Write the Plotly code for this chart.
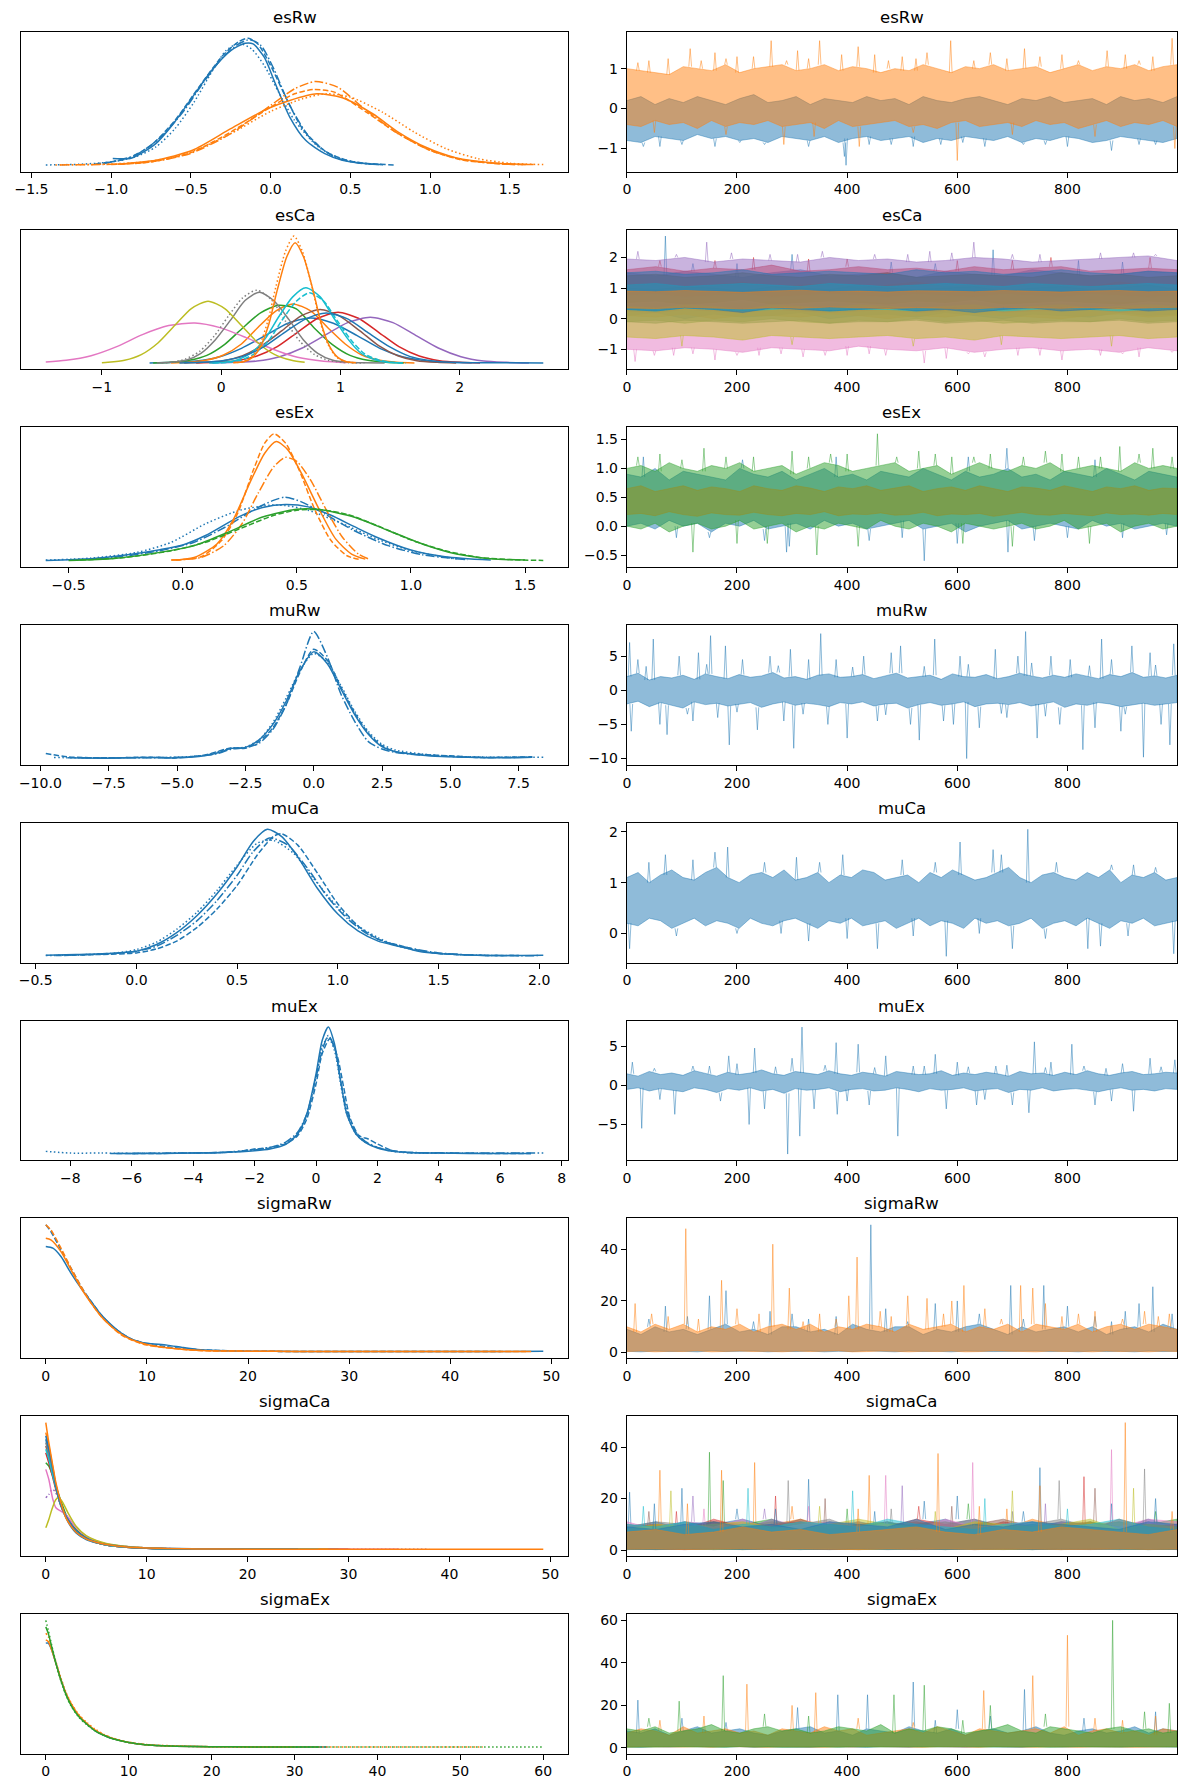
import plotly.graph_objects as go

# ---------------------------------------------------------------- data
VARS = ['esRw', 'esCa', 'esEx', 'muRw', 'muCa', 'muEx', 'sigmaRw', 'sigmaCa', 'sigmaEx']

# ---- esRw (2 dims) ----
esRw_kde_dim = [0, 0, 0, 0, 1, 1, 1, 1]
esRw_kde_chain = [0, 3, 1, 2, 0, 1, 2, 3]
esRw_kde_x = [
    [-0.99, -0.87, -0.72, -0.61, -0.49, -0.37, -0.25, -0.16, -0.11, -0.04, 0.03, 0.12, 0.22, 0.34, 0.45, 0.59, 0.69],
    [-1.41, -1.2, -1.0, -0.85, -0.72, -0.6, -0.48, -0.37, -0.28, -0.2, -0.12, -0.04, 0.05, 0.15, 0.3, 0.45, 0.6, 0.72],
    [-1.1, -0.9, -0.75, -0.6, -0.45, -0.3, -0.2, -0.14, -0.08, 0.0, 0.1, 0.2, 0.35, 0.5, 0.65, 0.78],
    [-1.05, -0.85, -0.7, -0.55, -0.42, -0.3, -0.2, -0.13, -0.06, 0.02, 0.12, 0.25, 0.4, 0.55, 0.7],
    [-0.96, -0.72, -0.49, -0.25, -0.02, 0.12, 0.29, 0.45, 0.64, 0.8, 0.97, 1.16, 1.4, 1.65],
    [-1.0, -0.75, -0.5, -0.25, 0.0, 0.15, 0.27, 0.4, 0.6, 0.8, 1.0, 1.2, 1.45, 1.6],
    [-1.32, -1.0, -0.75, -0.5, -0.25, 0.0, 0.15, 0.28, 0.42, 0.6, 0.8, 1.0, 1.2, 1.45, 1.6],
    [-1.35, -1.0, -0.75, -0.5, -0.25, 0.0, 0.2, 0.35, 0.5, 0.7, 0.9, 1.1, 1.3, 1.5, 1.71],
]
esRw_kde_y = [
    [0.2, 0.22, 0.65, 1.25, 2.05, 2.85, 3.45, 3.67, 3.65, 3.25, 2.45, 1.45, 0.75, 0.35, 0.15, 0.05, 0.02],
    [0.01, 0.03, 0.1, 0.25, 0.55, 1.1, 1.9, 2.8, 3.45, 3.67, 3.5, 3.0, 2.2, 1.35, 0.55, 0.18, 0.05, 0.01],
    [0.04, 0.2, 0.6, 1.35, 2.35, 3.3, 3.72, 3.82, 3.65, 3.0, 2.0, 1.1, 0.4, 0.12, 0.04, 0.01],
    [0.05, 0.3, 0.8, 1.6, 2.5, 3.25, 3.65, 3.78, 3.6, 2.9, 1.8, 0.8, 0.25, 0.07, 0.02],
    [0.03, 0.15, 0.45, 1.1, 1.7, 1.95, 2.15, 2.03, 1.55, 1.0, 0.55, 0.23, 0.07, 0.02],
    [0.02, 0.1, 0.38, 1.0, 1.75, 2.15, 2.28, 2.2, 1.6, 0.95, 0.45, 0.16, 0.04, 0.02],
    [0.01, 0.03, 0.1, 0.36, 0.95, 1.8, 2.3, 2.52, 2.35, 1.65, 0.95, 0.45, 0.17, 0.04, 0.02],
    [0.01, 0.04, 0.12, 0.4, 0.95, 1.62, 2.0, 2.15, 2.05, 1.6, 1.0, 0.5, 0.2, 0.06, 0.02],
]
esRw_hi = [
    [0.2, 0.3, 0.1, 0.25, 0.15, 0.3, 0.2, 0.1, 0.25, 0.35, 0.15, 0.2, 0.3, 0.1, 0.25, 0.2, 0.15, 0.3, 0.2, 0.25,
     0.1, 0.3, 0.2, 0.15, 0.25, 0.3, 0.2, 0.1, 0.25, 0.2, 0.3, 0.15, 0.2, 0.25, 0.1, 0.3, 0.2, 0.25, 0.15, 0.3],
    [1.0, 0.95, 0.9, 0.85, 1.05, 1.0, 0.95, 1.1, 0.9, 1.0, 1.05, 1.1, 0.95, 1.0, 1.1, 0.95, 1.05, 1.0, 0.9, 1.0,
     0.95, 1.1, 1.0, 0.9, 1.05, 1.0, 1.1, 0.95, 1.0, 1.05, 0.9, 1.0, 1.1, 0.95, 1.05, 1.0, 1.1, 0.95, 1.05, 1.1],
]
esRw_lo = [
    [-0.8, -0.85, -0.7, -0.75, -0.8, -0.65, -0.75, -0.7, -0.8, -0.75, -0.85, -0.7, -0.75, -0.8, -0.7, -0.85, -0.75, -0.7, -0.8, -0.75,
     -0.7, -0.85, -0.75, -0.8, -0.7, -0.75, -0.8, -0.7, -0.85, -0.75, -0.8, -0.7, -0.75, -0.85, -0.8, -0.7, -0.75, -0.8, -0.85, -0.75],
    [-0.4, -0.45, -0.3, -0.4, -0.35, -0.5, -0.3, -0.45, -0.35, -0.4, -0.3, -0.45, -0.4, -0.35, -0.5, -0.3, -0.45, -0.4, -0.35, -0.3,
     -0.45, -0.4, -0.5, -0.35, -0.3, -0.45, -0.4, -0.35, -0.45, -0.3, -0.4, -0.35, -0.5, -0.4, -0.3, -0.45, -0.35, -0.4, -0.3, -0.45],
]
esRw_spk = [
    [[30, -0.95], [160, -0.95], [395, -1.2], [398, -1.42], [480, -0.9], [720, -0.9], [880, -1.05], [930, -0.9],
     [60, -0.95], [100, -0.9], [205, -0.85], [250, -0.9], [330, -0.95], [440, -0.9], [520, -0.95], [570, -0.9],
     [610, -0.85], [650, -0.95], [760, -0.9], [800, -0.95], [960, -0.9]],
    [[115, 1.5], [160, 1.4], [262, 1.7], [285, -0.9], [310, 1.45], [350, 1.7], [420, 1.55], [422, -0.95],
     [588, 1.7], [600, -1.3], [722, 1.5], [872, 1.45], [990, 1.76], [995, -1.0],
     [40, 1.2], [75, 1.25], [200, 1.3], [230, 1.3], [390, 1.35], [450, 1.35], [500, 1.3], [545, 1.4],
     [660, 1.4], [750, 1.3], [790, 1.35], [905, 1.35], [955, 1.3], [20, 1.15], [135, 1.2], [180, 1.25],
     [290, 1.2], [330, 1.25], [475, 1.2], [525, 1.25], [630, 1.2], [690, 1.25], [820, 1.2], [930, 1.2],
     [50, -0.6], [180, -0.65], [340, -0.7], [520, -0.6], [700, -0.65], [850, -0.7]],
]

# ---- esCa (12 dims) ----
esCa_kde_dim = [0, 1, 2, 3, 4, 5, 6, 7, 7, 8, 9, 9, 10, 11, 11]
esCa_kde_chain = [0, 0, 0, 0, 0, 0, 0, 0, 3, 0, 0, 1, 0, 0, 3]
esCa_kde_x = [
    [-0.6, -0.41, -0.21, -0.02, 0.17, 0.37, 0.56, 0.75, 0.94, 1.14, 1.33, 1.52, 1.71, 1.91, 2.1],
    [-0.42, -0.27, -0.13, 0.02, 0.17, 0.31, 0.46, 0.6, 0.75, 0.89, 1.04, 1.18, 1.33, 1.47, 1.62],
    [-0.57, -0.42, -0.27, -0.12, 0.03, 0.18, 0.33, 0.48, 0.63, 0.78, 0.93, 1.08, 1.23, 1.38, 1.53],
    [-0.21, -0.04, 0.13, 0.3, 0.47, 0.64, 0.81, 0.98, 1.15, 1.32, 1.49, 1.66, 1.83, 2.0, 2.17],
    [-0.08, 0.11, 0.3, 0.49, 0.68, 0.87, 1.06, 1.25, 1.44, 1.63, 1.82, 2.01, 2.2, 2.39, 2.58],
    [-0.31, -0.15, 0.02, 0.18, 0.34, 0.51, 0.67, 0.83, 0.99, 1.16, 1.32, 1.48, 1.64, 1.81, 1.97],
    [-1.47, -1.3, -1.09, -0.87, -0.66, -0.44, -0.22, -0.01, 0.21, 0.43, 0.64, 0.86, 1.05],
    [-0.54, -0.42, -0.29, -0.17, -0.05, 0.08, 0.2, 0.32, 0.44, 0.57, 0.69, 0.81, 0.93, 1.06, 1.18, 1.37],
    [-0.5, -0.4, -0.3, -0.18, -0.06, 0.06, 0.18, 0.3, 0.42, 0.54, 0.66, 0.78, 0.9, 1.02, 1.2],
    [-1.0, -0.95, -0.81, -0.67, -0.53, -0.39, -0.25, -0.11, 0.03, 0.17, 0.31, 0.45, 0.59, 0.7],
    [-0.1, 0.02, 0.14, 0.25, 0.37, 0.48, 0.6, 0.71, 0.83, 0.94, 1.06, 1.17, 1.29, 1.4, 1.52],
    [-0.07, 0.05, 0.17, 0.28, 0.4, 0.51, 0.63, 0.74, 0.86, 0.97, 1.09, 1.2, 1.32, 1.43, 1.55],
    [-0.35, -0.17, 0.01, 0.18, 0.36, 0.53, 0.71, 0.88, 1.06, 1.23, 1.41, 1.58, 1.76, 1.93, 2.11, 2.4, 2.7],
    [0.11, 0.19, 0.26, 0.33, 0.4, 0.47, 0.55, 0.62, 0.69, 0.77, 0.84, 0.91, 0.98, 1.05, 1.13],
    [0.1, 0.18, 0.25, 0.32, 0.39, 0.46, 0.54, 0.61, 0.68, 0.76, 0.83, 0.9, 0.97, 1.04, 1.12],
]
esCa_kde_y = [
    [0.0, 0.02, 0.06, 0.18, 0.44, 0.82, 1.19, 1.35, 1.19, 0.82, 0.44, 0.19, 0.07, 0.02, 0.01],
    [0.0, 0.02, 0.08, 0.24, 0.57, 1.07, 1.56, 1.77, 1.56, 1.07, 0.57, 0.24, 0.08, 0.02, 0.0],
    [0.0, 0.02, 0.08, 0.23, 0.56, 1.05, 1.5, 1.73, 1.62, 1.05, 0.56, 0.23, 0.08, 0.02, 0.0],
    [0.0, 0.02, 0.07, 0.21, 0.49, 0.92, 1.34, 1.52, 1.34, 0.92, 0.49, 0.21, 0.07, 0.02, 0.0],
    [0.0, 0.02, 0.06, 0.19, 0.45, 0.83, 1.21, 1.37, 1.21, 0.83, 0.45, 0.19, 0.06, 0.02, 0.0],
    [0.0, 0.02, 0.07, 0.22, 0.52, 0.97, 1.41, 1.6, 1.41, 0.97, 0.52, 0.22, 0.07, 0.02, 0.0],
    [0.03, 0.08, 0.22, 0.5, 0.85, 1.12, 1.2, 1.06, 0.76, 0.42, 0.17, 0.05, 0.01],
    [0.0, 0.02, 0.09, 0.29, 0.69, 1.29, 1.87, 2.12, 1.87, 1.29, 0.69, 0.29, 0.09, 0.02, 0.01, 0.0],
    [0.0, 0.03, 0.12, 0.35, 0.8, 1.4, 1.95, 2.18, 1.9, 1.25, 0.65, 0.26, 0.08, 0.02, 0.0],
    [0.01, 0.02, 0.08, 0.25, 0.6, 1.12, 1.63, 1.85, 1.63, 1.12, 0.6, 0.25, 0.08, 0.02],
    [0.0, 0.02, 0.1, 0.3, 0.73, 1.37, 1.98, 2.25, 1.98, 1.37, 0.73, 0.3, 0.1, 0.02, 0.0],
    [0.0, 0.02, 0.09, 0.28, 0.68, 1.28, 1.85, 2.1, 1.85, 1.28, 0.68, 0.28, 0.09, 0.02, 0.0],
    [0.0, 0.02, 0.07, 0.2, 0.49, 0.91, 1.32, 1.5, 1.32, 0.91, 0.49, 0.2, 0.07, 0.02, 0.01, 0.01, 0.0],
    [0.01, 0.04, 0.16, 0.49, 1.17, 2.18, 3.18, 3.6, 3.18, 2.18, 1.17, 0.49, 0.16, 0.04, 0.01],
    [0.01, 0.04, 0.17, 0.52, 1.24, 2.3, 3.35, 3.8, 3.35, 2.3, 1.24, 0.52, 0.17, 0.04, 0.01],
]
esCa_hi = [
    [1.5, 1.4, 1.55, 1.45, 1.35, 1.5, 1.6, 1.4, 1.45, 1.5, 1.35, 1.55, 1.45, 1.4, 1.6, 1.5, 1.4, 1.45, 1.55, 1.5],
    [1.1, 1.15, 1.0, 1.1, 1.2, 1.05, 1.1, 1.15, 1.0, 1.1, 1.2, 1.05, 1.1, 1.0, 1.15, 1.1, 1.05, 1.2, 1.1, 1.0],
    [1.0, 0.95, 1.05, 1.0, 0.9, 1.05, 1.0, 0.95, 1.1, 1.0, 0.95, 1.0, 1.05, 0.9, 1.0, 1.05, 0.95, 1.0, 1.1, 0.95],
    [1.6, 1.7, 1.55, 1.65, 1.6, 1.75, 1.55, 1.6, 1.7, 1.6, 1.65, 1.55, 1.7, 1.6, 1.65, 1.7, 1.55, 1.6, 1.65, 1.6],
    [1.95, 1.9, 2.0, 1.85, 1.95, 1.9, 1.85, 2.0, 1.9, 1.95, 1.85, 1.9, 2.0, 1.95, 1.85, 1.9, 1.95, 2.0, 2.05, 1.9],
    [1.4, 1.45, 1.35, 1.4, 1.5, 1.4, 1.35, 1.45, 1.4, 1.5, 1.35, 1.4, 1.45, 1.4, 1.35, 1.5, 1.4, 1.45, 1.35, 1.4],
    [0.5, 0.55, 0.45, 0.5, 0.6, 0.45, 0.5, 0.55, 0.5, 0.45, 0.55, 0.5, 0.6, 0.45, 0.5, 0.55, 0.5, 0.45, 0.55, 0.5],
    [0.75, 0.8, 0.7, 0.75, 0.8, 0.7, 0.75, 0.8, 0.75, 0.7, 0.8, 0.75, 0.7, 0.8, 0.75, 0.7, 0.8, 0.75, 0.7, 0.75],
    [0.4, 0.35, 0.45, 0.4, 0.3, 0.45, 0.4, 0.35, 0.45, 0.4, 0.35, 0.4, 0.45, 0.3, 0.4, 0.45, 0.35, 0.4, 0.45, 0.4],
    [1.1, 1.15, 1.05, 1.1, 1.15, 1.1, 1.05, 1.15, 1.1, 1.05, 1.1, 1.15, 1.1, 1.05, 1.15, 1.1, 1.05, 1.1, 1.15, 1.1],
    [1.5, 1.55, 1.45, 1.5, 1.6, 1.45, 1.5, 1.55, 1.5, 1.45, 1.6, 1.5, 1.55, 1.45, 1.5, 1.6, 1.5, 1.45, 1.55, 1.5],
    [0.9, 0.88, 0.92, 0.9, 0.86, 0.9, 0.93, 0.88, 0.9, 0.87, 0.91, 0.9, 0.88, 0.92, 0.9, 0.87, 0.9, 0.92, 0.88, 0.9],
]
esCa_lo = [
    [0.1, 0.2, 0.0, 0.15, 0.05, 0.1, 0.2, 0.0, 0.1, 0.15, 0.05, 0.2, 0.1, 0.0, 0.15, 0.1, 0.05, 0.2, 0.1, 0.15],
    [0.1, 0.05, 0.15, 0.0, 0.1, 0.1, 0.05, 0.15, 0.1, 0.0, 0.1, 0.05, 0.15, 0.1, 0.05, 0.0, 0.1, 0.15, 0.05, 0.1],
    [-0.1, -0.05, -0.15, -0.05, -0.1, 0.0, -0.1, -0.15, -0.05, -0.1, 0.0, -0.1, -0.05, -0.15, -0.1, -0.05, -0.1, 0.0, -0.1, -0.05],
    [0.4, 0.35, 0.45, 0.4, 0.3, 0.45, 0.4, 0.35, 0.4, 0.45, 0.35, 0.4, 0.3, 0.4, 0.45, 0.35, 0.4, 0.45, 0.35, 0.4],
    [0.6, 0.55, 0.65, 0.6, 0.5, 0.6, 0.65, 0.55, 0.6, 0.5, 0.6, 0.65, 0.55, 0.6, 0.6, 0.5, 0.65, 0.55, 0.6, 0.6],
    [0.25, 0.2, 0.3, 0.25, 0.2, 0.3, 0.25, 0.2, 0.25, 0.3, 0.2, 0.25, 0.3, 0.2, 0.25, 0.25, 0.3, 0.2, 0.25, 0.3],
    [-1.0, -1.05, -0.95, -1.0, -1.1, -0.95, -1.0, -1.05, -0.9, -1.0, -1.05, -0.95, -1.1, -1.0, -0.95, -1.05, -1.0, -1.1, -0.95, -1.05],
    [-0.1, -0.15, -0.05, -0.1, -0.15, -0.1, -0.05, -0.15, -0.1, -0.1, -0.05, -0.15, -0.1, -0.05, -0.15, -0.1, -0.1, -0.05, -0.15, -0.1],
    [-0.6, -0.65, -0.55, -0.6, -0.7, -0.55, -0.6, -0.65, -0.6, -0.55, -0.65, -0.6, -0.7, -0.55, -0.6, -0.65, -0.6, -0.55, -0.65, -0.6],
    [0.3, 0.25, 0.35, 0.3, 0.25, 0.3, 0.35, 0.25, 0.3, 0.3, 0.25, 0.35, 0.3, 0.25, 0.3, 0.35, 0.3, 0.25, 0.3, 0.35],
    [0.3, 0.25, 0.35, 0.3, 0.2, 0.35, 0.3, 0.25, 0.3, 0.35, 0.25, 0.3, 0.2, 0.3, 0.35, 0.25, 0.3, 0.35, 0.25, 0.3],
    [0.35, 0.33, 0.37, 0.35, 0.32, 0.36, 0.34, 0.38, 0.35, 0.33, 0.36, 0.35, 0.32, 0.37, 0.35, 0.34, 0.36, 0.33, 0.35, 0.37],
]
esCa_spk = [
    [[70, 2.7], [300, 2.1], [665, 2.25], [120, 1.8], [480, 1.85], [820, 1.9], [200, 1.8], [560, 1.8], [900, 1.85]],
    [],
    [],
    [[230, 2.0], [770, 2.0], [60, 1.9], [400, 1.95], [600, 1.9], [950, 2.0], [160, 1.9], [330, 1.95], [700, 1.9]],
    [[20, 2.2], [145, 2.5], [355, 2.2], [550, 2.2], [630, 2.5], [920, 2.15], [260, 2.1], [450, 2.1], [700, 2.1], [860, 2.15],
     [90, 2.1], [190, 2.15], [310, 2.1], [510, 2.1], [590, 2.15], [750, 2.1], [960, 2.1]],
    [],
    [[15, -1.4], [85, -1.2], [160, -1.35], [400, -1.2], [540, -1.45], [580, -1.3], [710, -1.2], [790, -1.35], [930, -1.25],
     [240, -1.2], [320, -1.25], [470, -1.2], [650, -1.25], [860, -1.2], [990, -1.1], [50, -1.2], [120, -1.15],
     [200, -1.2], [280, -1.15], [360, -1.2], [440, -1.15], [620, -1.15], [750, -1.2], [900, -1.15]],
    [],
    [[100, -0.9], [300, -0.85], [520, -0.9], [680, -0.85], [880, -0.9]],
    [],
    [],
    [],
]

# ---- esEx (3 dims) ----
esEx_kde_dim = [0, 0, 0, 1, 1, 1, 2, 2]
esEx_kde_chain = [0, 2, 3, 0, 1, 2, 0, 1]
esEx_kde_x = [
    [-0.6, -0.4, -0.25, -0.1, 0.0, 0.1, 0.25, 0.35, 0.45, 0.55, 0.65, 0.75, 0.85, 1.0, 1.15, 1.35],
    [-0.5, -0.3, -0.1, 0.05, 0.2, 0.32, 0.4, 0.45, 0.52, 0.62, 0.75, 0.9, 1.05, 1.25],
    [-0.6, -0.4, -0.2, -0.05, 0.1, 0.25, 0.38, 0.45, 0.55, 0.7, 0.85, 1.0, 1.2],
    [-0.05, 0.05, 0.15, 0.22, 0.3, 0.36, 0.41, 0.46, 0.52, 0.6, 0.67, 0.74, 0.8],
    [-0.03, 0.08, 0.17, 0.24, 0.31, 0.36, 0.4, 0.45, 0.51, 0.58, 0.65, 0.72, 0.78],
    [-0.05, 0.08, 0.18, 0.26, 0.33, 0.4, 0.45, 0.5, 0.56, 0.63, 0.7, 0.77, 0.82],
    [-0.5, -0.3, -0.1, 0.05, 0.2, 0.35, 0.5, 0.6, 0.75, 0.9, 1.05, 1.2, 1.35, 1.5],
    [-0.45, -0.25, -0.05, 0.1, 0.25, 0.4, 0.5, 0.6, 0.72, 0.85, 1.0, 1.15, 1.3, 1.45, 1.58],
]
esEx_kde_y = [
    [0.01, 0.06, 0.17, 0.33, 0.47, 0.75, 1.32, 1.58, 1.67, 1.6, 1.35, 1.02, 0.7, 0.32, 0.12, 0.02],
    [0.02, 0.1, 0.3, 0.55, 1.05, 1.55, 1.8, 1.89, 1.75, 1.4, 0.9, 0.45, 0.18, 0.03],
    [0.02, 0.08, 0.25, 0.55, 1.1, 1.5, 1.65, 1.64, 1.5, 1.1, 0.65, 0.3, 0.05],
    [0.02, 0.1, 0.5, 1.2, 2.4, 3.2, 3.54, 3.3, 2.6, 1.5, 0.65, 0.2, 0.05],
    [0.02, 0.12, 0.6, 1.4, 2.7, 3.5, 3.77, 3.5, 2.7, 1.5, 0.6, 0.15, 0.03],
    [0.02, 0.1, 0.45, 1.1, 2.0, 2.8, 3.07, 2.95, 2.4, 1.5, 0.7, 0.2, 0.04],
    [0.01, 0.07, 0.25, 0.45, 0.85, 1.3, 1.53, 1.52, 1.3, 0.9, 0.5, 0.2, 0.06, 0.02],
    [0.02, 0.1, 0.3, 0.55, 0.95, 1.35, 1.5, 1.52, 1.38, 1.05, 0.62, 0.3, 0.1, 0.03, 0.01],
]
esEx_hi = [
    [0.9, 0.85, 1.0, 0.8, 0.95, 0.9, 0.85, 0.8, 1.0, 0.9, 0.85, 0.95, 0.8, 0.9, 1.0, 0.85, 0.9, 0.8, 0.95, 0.9,
     0.85, 1.0, 0.9, 0.8, 0.95, 0.85, 0.9, 1.0, 0.85, 0.9, 0.8, 0.95, 0.9, 0.85, 1.0, 0.9, 0.8, 0.95, 0.9, 0.85],
    [0.65, 0.7, 0.6, 0.65, 0.7, 0.62, 0.68, 0.65, 0.6, 0.7, 0.65, 0.62, 0.7, 0.66, 0.6, 0.68, 0.65, 0.7, 0.62, 0.66,
     0.7, 0.6, 0.65, 0.68, 0.62, 0.7, 0.65, 0.6, 0.68, 0.66, 0.62, 0.7, 0.65, 0.6, 0.68, 0.65, 0.7, 0.62, 0.66, 0.65],
    [1.0, 1.05, 0.95, 1.1, 1.0, 0.95, 1.05, 1.0, 1.1, 0.95, 1.0, 1.05, 0.9, 1.0, 1.1, 1.05, 0.95, 1.0, 1.05, 1.1,
     0.95, 1.0, 1.05, 0.9, 1.0, 1.1, 1.0, 0.95, 1.05, 1.0, 1.1, 0.95, 1.0, 1.05, 1.0, 0.95, 1.1, 1.0, 1.05, 1.0],
]
esEx_lo = [
    [0.0, 0.05, -0.05, 0.1, 0.0, 0.05, -0.1, 0.05, 0.0, 0.1, -0.05, 0.0, 0.05, -0.05, 0.1, 0.0, 0.05, -0.05, 0.0, 0.05,
     0.1, -0.05, 0.0, 0.05, -0.1, 0.0, 0.05, 0.1, -0.05, 0.0, 0.05, 0.0, -0.05, 0.1, 0.0, 0.05, -0.05, 0.0, 0.05, 0.0],
    [0.2, 0.22, 0.18, 0.25, 0.2, 0.17, 0.23, 0.2, 0.19, 0.24, 0.2, 0.18, 0.22, 0.2, 0.25, 0.18, 0.21, 0.2, 0.23, 0.19,
     0.2, 0.24, 0.18, 0.21, 0.2, 0.22, 0.17, 0.2, 0.24, 0.2, 0.19, 0.22, 0.2, 0.18, 0.23, 0.2, 0.21, 0.19, 0.22, 0.2],
    [0.0, -0.05, 0.05, -0.1, 0.0, 0.05, -0.05, 0.0, 0.1, -0.05, 0.0, 0.05, -0.1, 0.0, -0.05, 0.05, 0.0, -0.05, 0.1, 0.0,
     -0.05, 0.05, 0.0, -0.1, 0.05, 0.0, -0.05, 0.0, 0.05, -0.05, 0.0, 0.1, -0.05, 0.0, 0.05, -0.1, 0.0, 0.05, -0.05, 0.0],
]
esEx_spk = [
    [[30, 1.2], [150, -0.2], [290, -0.45], [295, -0.35], [540, -0.6], [600, -0.3], [690, 1.35], [692, -0.45], [980, -0.15],
     [210, 1.15], [380, 1.2], [620, 1.2], [850, 1.15], [440, -0.25], [800, -0.2], [90, -0.2], [250, -0.25],
     [500, -0.2], [740, -0.25], [900, -0.2]],
    [],
    [[60, 1.25], [120, -0.45], [140, 1.35], [255, -0.3], [300, 1.3], [345, -0.5], [455, 1.6], [530, 1.3],
     [700, -0.35], [760, 1.3], [895, 1.38], [955, 1.35], [180, 1.2], [400, 1.25], [590, 1.2], [660, 1.25], [820, 1.2],
     [20, 1.2], [100, 1.15], [230, 1.2], [330, 1.2], [370, 1.25], [490, 1.2], [560, 1.25], [630, 1.2], [720, 1.2],
     [790, 1.25], [860, 1.2], [930, 1.25], [990, 1.2], [200, -0.3], [420, -0.35], [610, -0.3], [840, -0.3]],
]

# ---- muRw (1 dim) ----
muRw_kde_dim = [0, 0, 0, 0]
muRw_kde_chain = [0, 1, 2, 3]
muRw_kde_x = [
    [-9.0, -7.5, -6.0, -5.0, -4.0, -3.5, -3.0, -2.5, -2.0, -1.5, -1.0, -0.5, 0.0, 0.5, 1.0, 1.5, 2.0, 2.5, 3.0, 4.0, 5.0, 6.0, 7.0, 8.0],
    [-9.8, -9.0, -7.5, -6.0, -5.0, -4.0, -3.0, -2.5, -2.0, -1.5, -1.0, -0.5, 0.0, 0.5, 1.0, 1.5, 2.0, 2.5, 3.0, 4.0, 5.0, 6.0, 7.0, 8.0],
    [-8.5, -7.0, -5.5, -4.5, -3.5, -3.0, -2.5, -2.0, -1.5, -1.0, -0.5, 0.0, 0.5, 1.0, 1.5, 2.0, 2.5, 3.0, 4.0, 5.0, 6.5, 8.0],
    [-9.5, -8.0, -6.5, -5.0, -4.0, -3.0, -2.5, -2.0, -1.5, -1.0, -0.5, 0.0, 0.5, 1.0, 1.5, 2.0, 2.5, 3.0, 4.0, 5.0, 6.5, 8.4],
]
muRw_kde_y = [
    [0.02, 0.01, 0.03, 0.02, 0.08, 0.17, 0.3, 0.33, 0.55, 1.0, 1.7, 2.6, 3.15, 2.8, 2.05, 1.3, 0.72, 0.35, 0.2, 0.1, 0.05, 0.03, 0.02, 0.04],
    [0.15, 0.05, 0.02, 0.04, 0.02, 0.1, 0.32, 0.3, 0.5, 0.9, 1.6, 2.55, 3.23, 2.9, 2.1, 1.35, 0.75, 0.38, 0.2, 0.12, 0.08, 0.03, 0.04, 0.05],
    [0.02, 0.02, 0.03, 0.05, 0.15, 0.28, 0.32, 0.45, 0.85, 1.6, 2.7, 3.75, 3.0, 1.9, 1.1, 0.5, 0.28, 0.18, 0.1, 0.06, 0.03, 0.04],
    [0.03, 0.02, 0.03, 0.04, 0.1, 0.3, 0.34, 0.55, 1.05, 1.8, 2.6, 3.1, 2.85, 2.15, 1.4, 0.8, 0.42, 0.25, 0.13, 0.07, 0.04, 0.04],
]
muRw_hi = [[2.0, 2.5, 1.5, 2.0, 1.8, 2.2, 1.6, 2.4, 2.0, 1.7, 2.3, 1.9, 2.1, 2.6, 1.8, 2.0, 1.6, 2.2, 2.4, 1.9, 2.0, 2.3, 1.7, 2.1, 2.5,
            1.8, 2.0, 2.2, 1.6, 2.4, 2.0, 1.9, 2.3, 1.7, 2.0, 2.5, 2.1, 1.8, 2.2, 1.9, 2.4, 2.0, 1.7, 2.3, 2.0, 2.6, 1.9, 2.1, 1.8, 2.2]]
muRw_lo = [[-2.0, -1.6, -2.4, -1.8, -2.2, -2.6, -1.7, -2.1, -1.9, -2.3, -2.0, -1.8, -2.5, -2.0, -1.7, -2.2, -1.9, -2.1, -2.4, -1.8, -2.0, -1.7, -2.3, -2.0, -1.9,
            -2.6, -2.1, -1.8, -2.2, -2.0, -1.7, -2.4, -2.0, -1.9, -2.1, -1.8, -2.3, -2.0, -1.7, -2.5, -2.0, -2.2, -1.8, -2.0, -2.4, -2.1, -1.9, -2.2, -2.0, -1.8]]
muRw_spk = [[[5, 7.0], [8, -6.0], [20, 4.5], [48, 7.5], [60, -5.0], [73, -6.5], [95, 5.0], [120, -4.5], [130, 5.5], [152, 8.0],
             [165, -4.0], [179, 6.5], [186, -8.0], [210, 4.5], [237, -5.8], [260, 5.0], [285, -4.5], [297, 6.0], [303, -8.5],
             [330, 4.5], [352, 8.3], [365, -5.0], [380, 4.5], [400, -7.0], [430, 5.0], [455, -4.5], [480, 5.5], [497, 6.5],
             [515, -5.0], [531, -7.3], [559, 7.5], [575, -4.5], [593, -5.0], [605, 5.0], [617, -10.0], [640, -5.5], [669, 6.0],
             [690, -4.0], [710, 5.0], [724, 8.6], [745, -7.0], [770, 5.0], [786, -5.0], [805, 4.5], [828, -8.7], [850, -5.5],
             [862, 7.5], [880, 4.5], [897, -6.0], [917, 6.5], [938, -9.8], [950, 5.5], [970, -5.0], [986, -8.0], [993, 6.8],
             [35, 3.5], [110, -3.5], [145, 3.8], [200, -3.2], [275, 3.6], [320, -3.5], [410, 3.4], [470, -3.6], [540, 3.5],
             [620, 3.8], [680, -3.4], [735, 4.0], [760, -3.8], [840, 3.6], [905, -3.5], [960, 3.7]]]

# ---- muCa (1 dim) ----
muCa_kde_dim = [0, 0, 0, 0]
muCa_kde_chain = [0, 1, 2, 3]
muCa_kde_x = [
    [-0.45, -0.3, -0.15, 0.0, 0.1, 0.2, 0.3, 0.4, 0.5, 0.58, 0.65, 0.72, 0.8, 0.9, 1.0, 1.1, 1.2, 1.3, 1.4, 1.5, 1.65, 1.8, 2.02],
    [-0.4, -0.2, 0.0, 0.1, 0.2, 0.3, 0.4, 0.5, 0.6, 0.68, 0.72, 0.8, 0.9, 1.0, 1.1, 1.2, 1.3, 1.4, 1.5, 1.7, 1.9],
    [-0.35, -0.15, 0.0, 0.1, 0.2, 0.3, 0.4, 0.5, 0.58, 0.66, 0.75, 0.85, 0.95, 1.05, 1.15, 1.25, 1.35, 1.5, 1.7, 2.0],
    [-0.45, -0.25, -0.1, 0.0, 0.1, 0.2, 0.3, 0.4, 0.5, 0.6, 0.68, 0.78, 0.88, 1.0, 1.1, 1.2, 1.3, 1.45, 1.6, 1.8],
]
muCa_kde_y = [
    [0.03, 0.05, 0.08, 0.15, 0.35, 0.7, 1.2, 1.85, 2.65, 3.4, 3.76, 3.55, 2.95, 2.0, 1.25, 0.75, 0.45, 0.3, 0.15, 0.08, 0.04, 0.02, 0.03],
    [0.02, 0.05, 0.1, 0.22, 0.45, 0.85, 1.4, 2.1, 3.0, 3.55, 3.63, 3.3, 2.45, 1.55, 0.9, 0.5, 0.33, 0.18, 0.08, 0.03, 0.02],
    [0.03, 0.07, 0.15, 0.3, 0.62, 1.05, 1.65, 2.4, 3.1, 3.5, 3.3, 2.6, 1.75, 1.1, 0.65, 0.4, 0.25, 0.1, 0.03, 0.02],
    [0.02, 0.05, 0.1, 0.2, 0.42, 0.8, 1.3, 1.95, 2.7, 3.35, 3.43, 3.05, 2.3, 1.45, 0.9, 0.55, 0.3, 0.12, 0.05, 0.02],
]
muCa_hi = [[1.1, 1.2, 1.0, 1.15, 1.25, 1.1, 1.05, 1.2, 1.3, 1.1, 1.0, 1.15, 1.2, 1.1, 1.25, 1.05, 1.1, 1.2, 1.0, 1.15, 1.1, 1.25, 1.2, 1.05, 1.1,
            1.15, 1.0, 1.2, 1.1, 1.25, 1.15, 1.05, 1.1, 1.2, 1.3, 1.1, 1.0, 1.15, 1.2, 1.1, 1.05, 1.2, 1.1, 1.25, 1.0, 1.15, 1.1, 1.2, 1.05, 1.1]]
muCa_lo = [[0.2, 0.15, 0.3, 0.25, 0.1, 0.2, 0.3, 0.15, 0.25, 0.2, 0.1, 0.3, 0.2, 0.15, 0.25, 0.3, 0.2, 0.1, 0.25, 0.2, 0.3, 0.15, 0.2, 0.25, 0.1,
            0.2, 0.3, 0.15, 0.25, 0.2, 0.1, 0.3, 0.2, 0.25, 0.15, 0.2, 0.3, 0.1, 0.2, 0.25, 0.15, 0.3, 0.2, 0.1, 0.25, 0.2, 0.3, 0.15, 0.2, 0.25]]
muCa_spk = [[[5, -0.3], [70, 1.55], [90, -0.05], [160, 1.6], [183, 1.7], [308, 1.5], [330, -0.15], [392, 1.55], [400, -0.1],
             [455, -0.3], [580, -0.45], [605, 1.8], [665, 1.65], [680, 1.55], [700, -0.3], [728, 2.05], [837, -0.3], [860, -0.25],
             [920, 1.35], [993, -0.4], [40, 1.4], [120, 1.45], [250, 1.4], [350, 1.4], [500, 1.45], [560, 1.4], [780, 1.4],
             [880, 1.35], [960, 1.3], [200, 0.0], [280, 0.0], [520, -0.05], [640, 0.0], [760, -0.1], [910, -0.05]]]

# ---- muEx (1 dim) ----
muEx_kde_dim = [0, 0, 0, 0]
muEx_kde_chain = [0, 1, 2, 3]
muEx_kde_x = [
    [-6.7, -5.0, -4.0, -3.0, -2.0, -1.5, -1.0, -0.6, -0.3, 0.0, 0.2, 0.4, 0.6, 0.8, 1.0, 1.3, 1.6, 2.0, 2.5, 3.0, 4.0, 5.0, 6.0, 7.0],
    [-6.5, -5.0, -3.5, -2.5, -2.0, -1.5, -1.0, -0.6, -0.3, 0.0, 0.2, 0.45, 0.7, 0.9, 1.1, 1.4, 1.7, 2.0, 2.5, 3.0, 4.0, 5.5, 7.0],
    [-6.0, -4.5, -3.0, -2.0, -1.5, -1.0, -0.6, -0.3, 0.0, 0.2, 0.4, 0.6, 0.8, 1.0, 1.3, 1.6, 2.0, 2.5, 3.0, 4.0, 5.0, 6.0, 7.4],
    [-8.8, -8.0, -7.0, -6.0, -4.5, -3.0, -2.0, -1.5, -1.0, -0.6, -0.3, 0.0, 0.2, 0.4, 0.6, 0.8, 1.0, 1.3, 1.6, 2.0, 2.5, 3.0, 4.0],
]
muEx_kde_y = [
    [0.02, 0.02, 0.03, 0.05, 0.1, 0.15, 0.28, 0.6, 1.2, 2.4, 3.4, 3.8, 3.3, 2.2, 1.2, 0.6, 0.35, 0.18, 0.08, 0.05, 0.03, 0.02, 0.02, 0.02],
    [0.02, 0.02, 0.04, 0.08, 0.15, 0.18, 0.3, 0.55, 1.05, 2.1, 3.0, 3.45, 2.9, 2.0, 1.1, 0.55, 0.45, 0.3, 0.1, 0.05, 0.03, 0.02, 0.02],
    [0.02, 0.03, 0.05, 0.12, 0.2, 0.35, 0.65, 1.2, 2.3, 3.1, 3.55, 3.2, 2.2, 1.3, 0.65, 0.38, 0.2, 0.1, 0.05, 0.04, 0.03, 0.03, 0.03],
    [0.08, 0.03, 0.03, 0.02, 0.03, 0.05, 0.14, 0.2, 0.32, 0.6, 1.15, 2.3, 3.2, 3.5, 3.1, 2.1, 1.2, 0.6, 0.35, 0.2, 0.08, 0.04, 0.02],
]
muEx_hi = [[1.5, 1.2, 1.8, 1.4, 1.6, 1.3, 1.9, 1.5, 1.2, 1.7, 1.4, 1.6, 2.0, 1.5, 1.3, 1.8, 1.6, 1.4, 1.9, 1.5, 1.3, 1.7, 1.5, 1.2, 1.8,
            1.6, 1.4, 1.5, 1.9, 1.3, 1.6, 1.4, 1.7, 1.5, 1.2, 1.8, 1.5, 1.6, 1.3, 1.7, 1.4, 1.9, 1.5, 1.3, 1.6, 1.8, 1.4, 1.5, 1.7, 1.6]]
muEx_lo = [[-0.5, -0.3, -0.7, -0.4, -0.6, -0.8, -0.3, -0.5, -0.9, -0.4, -0.6, -0.3, -0.7, -0.5, -1.0, -0.4, -0.6, -0.5, -0.3, -0.8, -0.5, -0.4, -0.7, -0.6, -0.3,
            -0.5, -0.8, -0.4, -0.6, -0.5, -0.3, -0.7, -0.5, -0.4, -0.9, -0.5, -0.6, -0.3, -0.7, -0.5, -0.4, -0.6, -0.8, -0.5, -0.3, -0.6, -0.5, -0.7, -0.4, -0.5]]
muEx_spk = [[[10, 3.0], [27, -5.5], [87, -3.7], [150, 2.5], [185, 3.8], [222, -5.0], [232, 4.8], [250, -3.0], [292, -8.8],
             [300, 3.5], [314, -6.5], [318, 7.5], [340, -3.0], [380, 5.5], [382, -3.7], [420, 5.3], [440, -2.5], [470, 3.8],
             [492, -6.5], [520, 2.5], [560, 4.0], [580, -3.0], [600, 3.0], [635, -2.5], [670, 2.5], [700, -2.5], [730, -3.5],
             [740, 5.6], [770, 3.0], [808, 5.3], [850, -2.5], [900, 2.8], [920, -3.3], [950, 3.5], [995, 3.3],
             [50, 2.2], [120, 2.5], [200, 2.8], [270, 2.4], [360, 2.6], [450, 2.3], [540, 2.5], [620, 2.4], [690, 2.6],
             [760, 2.3], [830, 2.5], [870, 2.2], [970, 2.4], [60, -1.8], [170, -2.0], [400, -2.0], [650, -1.8], [880, -2.0]]]

# ---- sigmaRw (2 dims) ----
sigmaRw_kde_dim = [0, 0, 1, 1]
sigmaRw_kde_chain = [0, 1, 0, 1]
sigmaRw_kde_x = [
    [0, 0.7, 1.5, 2.5, 3.5, 4.5, 5.5, 6.5, 7.5, 8.5, 9.5, 10.5, 12, 13.5, 15, 17, 20, 25, 30, 35, 40, 45, 49.2],
    [0, 0.5, 1.5, 2.5, 3.5, 4.5, 5.5, 6.5, 7.5, 8.5, 10, 12, 14, 17, 20, 25, 30, 35, 40, 45],
    [0, 0.5, 1.5, 2.5, 3.5, 4.5, 5.5, 6.5, 7.5, 8.5, 10, 12, 14, 16, 20, 25, 30, 35, 40, 48],
    [0, 0.5, 1.5, 2.5, 3.5, 4.5, 5.5, 6.5, 7.5, 8.5, 10, 12, 14, 16, 20, 25, 30, 35, 40, 47.5],
]
sigmaRw_kde_y = [
    [3.15, 3.1, 2.85, 2.35, 1.9, 1.5, 1.1, 0.8, 0.55, 0.38, 0.28, 0.24, 0.2, 0.13, 0.07, 0.04, 0.02, 0.01, 0.01, 0.01, 0.01, 0.01, 0.02],
    [3.8, 3.6, 3.05, 2.5, 1.95, 1.5, 1.1, 0.78, 0.55, 0.38, 0.24, 0.15, 0.08, 0.04, 0.02, 0.01, 0.01, 0.01, 0.01, 0.01],
    [3.4, 3.35, 3.0, 2.45, 1.9, 1.45, 1.05, 0.75, 0.52, 0.36, 0.22, 0.12, 0.06, 0.03, 0.02, 0.01, 0.01, 0.01, 0.01, 0.01],
    [3.8, 3.65, 3.1, 2.5, 1.95, 1.45, 1.05, 0.75, 0.5, 0.35, 0.2, 0.12, 0.06, 0.03, 0.02, 0.01, 0.01, 0.01, 0.01, 0.01],
]
sigmaRw_hi = [
    [9, 7, 10, 8, 9, 7, 9, 11, 8, 9, 7, 10, 10, 8, 9, 7, 11, 9, 8, 10, 10, 7, 9, 8, 10, 11, 9, 7, 10, 8, 9, 10, 8, 10, 7, 9, 10, 8, 11, 9],
    [10, 8, 11, 9, 11, 8, 10, 9, 11, 8, 10, 11, 9, 11, 8, 10, 9, 11, 10, 8, 11, 9, 10, 11, 8, 10, 9, 11, 8, 11, 10, 9, 11, 8, 10, 11, 9, 11, 10, 9],
]
sigmaRw_lo = [
    [0.5, 0.3, 0.6, 0.4, 0.5, 0.3, 0.7, 0.4, 0.5, 0.6, 0.3, 0.5, 0.4, 0.6, 0.3, 0.5, 0.4, 0.7, 0.5, 0.3,
     0.6, 0.4, 0.5, 0.3, 0.6, 0.5, 0.4, 0.3, 0.5, 0.6, 0.4, 0.5, 0.3, 0.6, 0.4, 0.5, 0.3, 0.6, 0.4, 0.5],
    [0.4, 0.6, 0.3, 0.5, 0.4, 0.7, 0.3, 0.5, 0.6, 0.4, 0.5, 0.3, 0.6, 0.4, 0.5, 0.7, 0.3, 0.4, 0.6, 0.5,
     0.3, 0.5, 0.4, 0.6, 0.3, 0.4, 0.7, 0.5, 0.4, 0.3, 0.6, 0.4, 0.5, 0.3, 0.6, 0.4, 0.5, 0.3, 0.6, 0.4],
]
sigmaRw_spk = [
    [[70, 18], [150, 22], [180, 24], [300, 15], [443, 49.5], [470, 17], [560, 19], [600, 20], [697, 26], [757, 26],
     [800, 18], [930, 19], [955, 25.5], [990, 15], [40, 13], [110, 14], [230, 12], [260, 16], [330, 13], [380, 14],
     [510, 12], [640, 15], [720, 13], [850, 14], [880, 12], [905, 16]],
    [[15, 19], [45, 15], [107, 48], [172, 28], [200, 17], [265, 42], [295, 25], [350, 15], [403, 22], [418, 37],
     [510, 22], [545, 21], [590, 20], [612, 26], [650, 17], [715, 26], [737, 25], [760, 19], [850, 16], [985, 15],
     [75, 14], [130, 13], [240, 15], [320, 12], [380, 13], [460, 16], [480, 14], [575, 15], [680, 13], [790, 14],
     [820, 15], [900, 13], [940, 16], [965, 14]],
]

# ---- sigmaCa (12 dims) ----
sigmaCa_kde_dim = [0, 1, 2, 3, 4, 5, 6, 7, 8, 9, 10, 11]
sigmaCa_kde_chain = [0, 0, 0, 0, 3, 0, 0, 0, 0, 0, 0, 0]
sigmaCa_kde_x = [
    [0, 0.3, 0.7, 1.0, 1.5, 2.0, 2.5, 3.0, 4.0, 5.0, 6.0, 8.0, 10, 13, 16, 20, 25, 30],
    [0, 0.3, 0.7, 1.0, 1.5, 2.0, 3.0, 4.0, 5.0, 6.0, 8.0, 10, 14, 20, 28],
    [0, 0.3, 0.7, 1.0, 1.5, 2.0, 2.5, 3.0, 4.0, 5.0, 6.0, 8.0, 10, 14, 20, 28],
    [0, 0.3, 0.7, 1.0, 1.5, 2.0, 3.0, 4.0, 5.0, 6.0, 8.0, 10, 14, 20, 30],
    [0, 0.3, 0.6, 0.9, 1.3, 1.8, 2.5, 3.0, 4.0, 5.0, 6.0, 8.0, 10, 14, 20, 30, 38],
    [0, 0.3, 0.7, 1.0, 1.5, 2.0, 3.0, 4.0, 5.0, 6.0, 8.0, 10, 14, 20, 26],
    [0, 0.3, 0.7, 1.0, 1.5, 2.0, 2.5, 3.0, 4.0, 5.0, 6.0, 8.0, 10, 14, 20, 30, 35],
    [0, 0.3, 0.7, 1.0, 1.5, 2.0, 3.0, 4.0, 5.0, 6.0, 8.0, 10, 14, 20, 29],
    [0, 0.3, 0.6, 1.0, 1.3, 1.7, 2.2, 3.0, 4.0, 5.0, 6.0, 8.0, 10, 14, 20, 28],
    [0, 0.3, 0.7, 1.0, 1.5, 2.0, 3.0, 4.0, 5.0, 6.0, 8.0, 10, 14, 20, 27],
    [0, 0.3, 0.7, 1.0, 1.5, 2.0, 3.0, 4.0, 5.0, 6.0, 8.0, 10, 14, 20, 25],
    [0, 0.3, 0.7, 1.0, 1.5, 2.0, 2.5, 3.0, 4.0, 5.0, 6.0, 7.0, 8.0, 10, 12, 15, 20, 25, 30, 35, 40, 45, 49.3],
]
sigmaCa_kde_y = [
    [3.3, 2.9, 2.3, 1.85, 1.3, 0.95, 0.68, 0.5, 0.3, 0.2, 0.14, 0.08, 0.05, 0.03, 0.02, 0.01, 0.01, 0.01],
    [3.5, 3.1, 2.45, 1.95, 1.38, 1.0, 0.55, 0.33, 0.21, 0.14, 0.07, 0.04, 0.02, 0.01, 0.01],
    [2.6, 2.5, 2.2, 1.9, 1.45, 1.05, 0.8, 0.6, 0.38, 0.25, 0.17, 0.09, 0.05, 0.02, 0.01, 0.01],
    [2.9, 2.6, 2.15, 1.8, 1.35, 1.0, 0.55, 0.33, 0.21, 0.14, 0.07, 0.04, 0.02, 0.01, 0.01],
    [1.55, 1.65, 1.8, 1.75, 1.45, 1.1, 0.75, 0.55, 0.33, 0.22, 0.15, 0.09, 0.05, 0.02, 0.01, 0.01, 0.01],
    [3.1, 2.8, 2.25, 1.85, 1.32, 0.98, 0.55, 0.33, 0.21, 0.14, 0.07, 0.04, 0.02, 0.01, 0.01],
    [2.4, 2.1, 1.5, 1.25, 1.15, 1.05, 0.85, 0.65, 0.4, 0.26, 0.17, 0.09, 0.05, 0.02, 0.01, 0.01, 0.01],
    [3.2, 2.85, 2.3, 1.9, 1.33, 0.97, 0.54, 0.33, 0.21, 0.14, 0.07, 0.04, 0.02, 0.01, 0.01],
    [0.65, 0.9, 1.2, 1.5, 1.55, 1.4, 1.1, 0.7, 0.42, 0.27, 0.18, 0.09, 0.05, 0.02, 0.01, 0.01],
    [3.0, 2.7, 2.2, 1.85, 1.35, 1.0, 0.55, 0.33, 0.21, 0.14, 0.07, 0.04, 0.02, 0.01, 0.01],
    [3.4, 3.0, 2.4, 1.9, 1.35, 1.0, 0.56, 0.34, 0.22, 0.15, 0.08, 0.04, 0.02, 0.01, 0.01],
    [3.8, 3.2, 2.5, 2.0, 1.4, 0.95, 0.7, 0.52, 0.32, 0.22, 0.15, 0.11, 0.08, 0.05, 0.03, 0.02, 0.01, 0.01, 0.01, 0.01, 0.01, 0.01, 0.01],
]
sigmaCa_hi = [
    [9, 11, 8, 10, 12, 9, 10, 8, 11, 9, 10, 12, 8, 10, 9, 11, 10, 8, 12, 9],
    [8, 10, 9, 11, 8, 10, 12, 9, 8, 10, 11, 9, 10, 8, 12, 9, 10, 11, 8, 10],
    [10, 8, 11, 9, 10, 12, 8, 10, 9, 11, 8, 10, 12, 9, 10, 8, 11, 9, 10, 12],
    [9, 10, 8, 12, 9, 10, 11, 8, 10, 9, 12, 10, 8, 11, 9, 10, 8, 12, 9, 10],
    [8, 9, 11, 10, 8, 12, 9, 10, 11, 8, 9, 10, 12, 9, 8, 11, 10, 9, 11, 8],
    [10, 9, 8, 11, 10, 9, 12, 8, 10, 11, 9, 8, 10, 12, 9, 10, 11, 8, 9, 10],
    [11, 8, 10, 9, 12, 8, 10, 11, 9, 10, 8, 12, 9, 10, 11, 8, 10, 9, 12, 11],
    [9, 11, 10, 8, 9, 11, 10, 12, 8, 9, 10, 11, 9, 8, 10, 12, 9, 11, 10, 9],
    [8, 10, 9, 10, 11, 9, 8, 10, 12, 10, 9, 8, 11, 10, 9, 10, 12, 8, 10, 9],
    [10, 9, 11, 8, 10, 9, 11, 10, 9, 12, 10, 9, 8, 10, 11, 9, 10, 12, 9, 8],
    [9, 8, 10, 11, 9, 10, 8, 11, 10, 9, 12, 8, 10, 9, 11, 10, 9, 8, 11, 10],
    [7, 8, 6, 7, 9, 7, 8, 6, 7, 8, 9, 7, 6, 8, 7, 9, 8, 7, 6, 8],
]
sigmaCa_lo = [
    [0.3, 0.5, 0.2, 0.4, 0.3, 0.6, 0.2, 0.4, 0.5, 0.3, 0.2, 0.4, 0.3, 0.5, 0.2, 0.4, 0.3, 0.6, 0.2, 0.4],
    [0.4, 0.2, 0.5, 0.3, 0.2, 0.4, 0.6, 0.3, 0.2, 0.5, 0.3, 0.4, 0.2, 0.3, 0.5, 0.2, 0.4, 0.3, 0.5, 0.2],
    [0.2, 0.4, 0.3, 0.5, 0.2, 0.3, 0.4, 0.2, 0.6, 0.3, 0.4, 0.2, 0.5, 0.3, 0.2, 0.4, 0.3, 0.2, 0.5, 0.3],
    [0.5, 0.3, 0.2, 0.4, 0.6, 0.2, 0.3, 0.5, 0.2, 0.4, 0.3, 0.5, 0.2, 0.4, 0.3, 0.2, 0.5, 0.3, 0.4, 0.2],
    [0.3, 0.2, 0.4, 0.3, 0.5, 0.2, 0.4, 0.3, 0.2, 0.5, 0.4, 0.2, 0.3, 0.5, 0.2, 0.3, 0.4, 0.2, 0.3, 0.5],
    [0.2, 0.4, 0.5, 0.2, 0.3, 0.4, 0.2, 0.5, 0.3, 0.2, 0.4, 0.3, 0.5, 0.2, 0.4, 0.3, 0.2, 0.5, 0.3, 0.4],
    [0.4, 0.3, 0.2, 0.5, 0.3, 0.2, 0.4, 0.3, 0.5, 0.2, 0.3, 0.4, 0.2, 0.5, 0.3, 0.4, 0.2, 0.3, 0.5, 0.2],
    [0.3, 0.5, 0.3, 0.2, 0.4, 0.3, 0.5, 0.2, 0.3, 0.4, 0.2, 0.5, 0.3, 0.2, 0.4, 0.3, 0.5, 0.2, 0.3, 0.4],
    [0.5, 0.2, 0.4, 0.3, 0.2, 0.5, 0.3, 0.4, 0.2, 0.3, 0.5, 0.2, 0.4, 0.3, 0.2, 0.5, 0.3, 0.4, 0.2, 0.3],
    [0.2, 0.3, 0.5, 0.2, 0.4, 0.3, 0.2, 0.5, 0.4, 0.2, 0.3, 0.5, 0.2, 0.3, 0.4, 0.2, 0.5, 0.3, 0.2, 0.4],
    [0.4, 0.2, 0.3, 0.5, 0.2, 0.4, 0.3, 0.2, 0.5, 0.3, 0.4, 0.2, 0.3, 0.5, 0.2, 0.4, 0.3, 0.5, 0.2, 0.3],
    [0.3, 0.4, 0.2, 0.3, 0.5, 0.2, 0.4, 0.3, 0.2, 0.4, 0.3, 0.5, 0.2, 0.3, 0.4, 0.2, 0.3, 0.5, 0.2, 0.4],
]
sigmaCa_spk = [
    [[5, 22.5], [100, 24], [330, 27.5], [600, 21], [750, 32], [200, 16], [450, 15], [880, 18]],
    [[60, 31], [232, 34], [440, 29], [300, 17], [690, 16]],
    [[150, 38], [175, 27], [400, 16], [620, 18], [960, 15]],
    [[270, 21], [830, 28.5], [90, 15], [530, 17]],
    [[120, 21], [500, 25], [250, 16], [760, 18]],
    [[360, 20], [850, 24], [40, 15], [590, 17]],
    [[470, 29], [628, 34], [880, 39], [140, 16], [330, 17]],
    [[293, 27], [785, 27], [940, 31.5], [480, 16], [700, 15]],
    [[80, 23], [700, 23], [920, 24], [350, 17], [560, 15]],
    [[220, 24], [410, 23], [650, 20], [30, 17], [800, 16]],
    [[50, 18], [540, 19], [960, 20], [270, 16], [720, 15]],
    [[172, 31], [565, 37.5], [750, 25], [905, 49.5], [110, 18], [420, 16], [640, 17], [990, 15]],
]

# ---- sigmaEx (3 dims) ----
sigmaEx_kde_dim = [0, 1, 1, 2, 2]
sigmaEx_kde_chain = [0, 0, 3, 0, 3]
sigmaEx_kde_x = [
    [0, 0.3, 0.7, 1.2, 1.8, 2.5, 3.2, 4.0, 5.0, 6.0, 7.0, 8.0, 10, 12, 15, 20, 25, 30, 34],
    [0, 0.3, 0.7, 1.2, 1.8, 2.5, 3.2, 4.0, 5.0, 6.0, 7.0, 8.0, 10, 12, 15, 20, 25, 30],
    [0, 0.3, 0.7, 1.2, 1.8, 2.5, 3.2, 4.0, 5.0, 6.0, 7.0, 8.0, 10, 12, 15, 20, 25, 30, 35, 40, 45, 52.7],
    [0, 0.3, 0.7, 1.2, 1.8, 2.5, 3.2, 4.0, 5.0, 6.0, 7.0, 8.0, 10, 12, 15, 20, 25, 33],
    [0, 0.3, 0.7, 1.2, 1.8, 2.5, 3.2, 4.0, 5.0, 6.0, 7.0, 8.0, 10, 12, 15, 20, 25, 30, 35, 40, 50, 60],
]
sigmaEx_kde_y = [
    [3.2, 3.2, 3.0, 2.6, 2.1, 1.6, 1.25, 0.95, 0.7, 0.5, 0.37, 0.27, 0.15, 0.08, 0.04, 0.02, 0.01, 0.01, 0.01],
    [3.3, 3.25, 3.0, 2.6, 2.1, 1.62, 1.28, 0.98, 0.72, 0.52, 0.38, 0.28, 0.15, 0.08, 0.04, 0.02, 0.01, 0.01],
    [3.5, 3.4, 3.1, 2.65, 2.15, 1.65, 1.3, 1.0, 0.75, 0.55, 0.4, 0.29, 0.16, 0.09, 0.05, 0.02, 0.01, 0.01, 0.01, 0.01, 0.01, 0.01],
    [3.7, 3.5, 3.1, 2.6, 2.08, 1.58, 1.22, 0.94, 0.7, 0.5, 0.37, 0.27, 0.15, 0.08, 0.04, 0.02, 0.01, 0.01],
    [3.9, 3.6, 3.15, 2.6, 2.05, 1.55, 1.2, 0.92, 0.68, 0.5, 0.37, 0.27, 0.15, 0.08, 0.04, 0.02, 0.01, 0.01, 0.01, 0.01, 0.01, 0.01],
]
sigmaEx_hi = [
    [8, 7, 9, 6, 8, 10, 7, 8, 9, 7, 6, 8, 9, 10, 7, 8, 6, 9, 8, 7, 10, 8, 7, 9, 6, 8, 9, 7, 8, 10, 7, 6, 8, 9, 7, 8, 10, 7, 9, 8],
    [7, 9, 8, 6, 10, 7, 8, 9, 7, 8, 6, 9, 8, 7, 10, 8, 9, 6, 7, 8, 9, 7, 10, 8, 6, 9, 8, 7, 8, 9, 7, 10, 6, 8, 9, 7, 8, 6, 9, 8],
    [9, 8, 10, 7, 8, 9, 11, 8, 7, 9, 10, 8, 9, 7, 8, 10, 9, 8, 11, 7, 9, 8, 10, 9, 7, 8, 9, 11, 8, 7, 10, 9, 8, 7, 9, 10, 8, 9, 7, 8],
]
sigmaEx_lo = [
    [0.5, 0.3, 0.6, 0.4, 0.7, 0.3, 0.5, 0.4, 0.6, 0.3, 0.5, 0.7, 0.4, 0.3, 0.6, 0.5, 0.4, 0.3, 0.6, 0.5,
     0.3, 0.7, 0.4, 0.5, 0.3, 0.6, 0.4, 0.5, 0.3, 0.7, 0.5, 0.4, 0.6, 0.3, 0.5, 0.4, 0.6, 0.3, 0.5, 0.4],
    [0.4, 0.6, 0.3, 0.5, 0.4, 0.6, 0.3, 0.7, 0.4, 0.5, 0.3, 0.6, 0.5, 0.4, 0.3, 0.6, 0.4, 0.7, 0.3, 0.5,
     0.4, 0.3, 0.6, 0.5, 0.4, 0.3, 0.7, 0.4, 0.5, 0.3, 0.6, 0.4, 0.3, 0.5, 0.6, 0.4, 0.3, 0.5, 0.4, 0.6],
    [0.3, 0.5, 0.4, 0.6, 0.3, 0.5, 0.4, 0.3, 0.7, 0.4, 0.5, 0.3, 0.6, 0.4, 0.5, 0.3, 0.6, 0.4, 0.3, 0.5,
     0.6, 0.4, 0.3, 0.5, 0.7, 0.4, 0.3, 0.6, 0.4, 0.5, 0.3, 0.4, 0.6, 0.5, 0.3, 0.4, 0.6, 0.3, 0.5, 0.4],
]
sigmaEx_spk = [
    [[20, 22.5], [310, 19], [383, 25], [437, 25], [520, 31], [600, 18], [722, 27.5], [960, 17],
     [100, 14], [180, 12], [560, 13], [660, 15], [830, 14]],
    [[218, 30], [300, 20], [343, 26], [648, 27], [737, 34], [800, 53], [850, 14],
     [60, 13], [140, 15], [420, 14], [520, 12], [900, 13], [960, 15]],
    [[95, 22], [175, 34], [250, 16], [485, 25], [540, 29.5], [660, 20], [882, 60], [985, 21],
     [40, 14], [330, 15], [610, 13], [760, 16], [940, 17]],
]

# ---- tick labels ----
M = '\u2212'
kde_tickvals = {
    'esRw': [-1.5, -1.0, -0.5, 0.0, 0.5, 1.0, 1.5],
    'esCa': [-1, 0, 1, 2],
    'esEx': [-0.5, 0.0, 0.5, 1.0, 1.5],
    'muRw': [-10.0, -7.5, -5.0, -2.5, 0.0, 2.5, 5.0, 7.5],
    'muCa': [-0.5, 0.0, 0.5, 1.0, 1.5, 2.0],
    'muEx': [-8, -6, -4, -2, 0, 2, 4, 6, 8],
    'sigmaRw': [0, 10, 20, 30, 40, 50],
    'sigmaCa': [0, 10, 20, 30, 40, 50],
    'sigmaEx': [0, 10, 20, 30, 40, 50, 60],
}
kde_ticktext = {
    'esRw': [M + '1.5', M + '1.0', M + '0.5', '0.0', '0.5', '1.0', '1.5'],
    'esCa': [M + '1', '0', '1', '2'],
    'esEx': [M + '0.5', '0.0', '0.5', '1.0', '1.5'],
    'muRw': [M + '10.0', M + '7.5', M + '5.0', M + '2.5', '0.0', '2.5', '5.0', '7.5'],
    'muCa': [M + '0.5', '0.0', '0.5', '1.0', '1.5', '2.0'],
    'muEx': [M + '8', M + '6', M + '4', M + '2', '0', '2', '4', '6', '8'],
    'sigmaRw': ['0', '10', '20', '30', '40', '50'],
    'sigmaCa': ['0', '10', '20', '30', '40', '50'],
    'sigmaEx': ['0', '10', '20', '30', '40', '50', '60'],
}
trace_tickvals = {
    'esRw': [-1, 0, 1], 'esCa': [-1, 0, 1, 2], 'esEx': [-0.5, 0.0, 0.5, 1.0, 1.5],
    'muRw': [-10, -5, 0, 5], 'muCa': [0, 1, 2], 'muEx': [-5, 0, 5],
    'sigmaRw': [0, 20, 40], 'sigmaCa': [0, 20, 40], 'sigmaEx': [0, 20, 40, 60],
}
trace_ticktext = {
    'esRw': [M + '1', '0', '1'], 'esCa': [M + '1', '0', '1', '2'],
    'esEx': [M + '0.5', '0.0', '0.5', '1.0', '1.5'],
    'muRw': [M + '10', M + '5', '0', '5'], 'muCa': ['0', '1', '2'], 'muEx': [M + '5', '0', '5'],
    'sigmaRw': ['0', '20', '40'], 'sigmaCa': ['0', '20', '40'], 'sigmaEx': ['0', '20', '40', '60'],
}
draw_ticks = [0, 200, 400, 600, 800]
N_DRAWS = 1000

# ---------------------------------------------------------------- styling
TAB = ['#1f77b4', '#ff7f0e', '#2ca02c', '#d62728', '#9467bd',
       '#8c564b', '#e377c2', '#7f7f7f', '#bcbd22', '#17becf']
DASHES = ['solid', '5.5px,2.4px', '9px,2.4px,1.5px,2.4px', '1.5px,2.5px']
FONT = 'DejaVu Sans'
W, H = 1187, 1789
LEFT = (15, 565)
RIGHT = (624, 1177)
TOP0, PITCH, PH = 30.0, 198.2, 140.0


def rgba(hexc, a):
    h = hexc.lstrip('#')
    return 'rgba(%d,%d,%d,%.3f)' % (int(h[0:2], 16), int(h[2:4], 16), int(h[4:6], 16), a)


g = globals()
fig = go.Figure()
layout = dict(width=W, height=H, margin=dict(l=0, r=0, t=0, b=0),
              paper_bgcolor='white', plot_bgcolor='white', showlegend=False,
              font=dict(family=FONT, size=14, color='black'))
annotations = []

axis_common = dict(showline=True, mirror=True, linecolor='black', linewidth=1,
                   showgrid=False, zeroline=False, ticks='outside', ticklen=5,
                   tickwidth=1, tickcolor='black',
                   tickfont=dict(family=FONT, size=14, color='black'))

for r, v in enumerate(VARS):
    top = TOP0 + r * PITCH
    bot = top + PH
    ydom = [1 - bot / H, 1 - top / H]
    nl, nr = 2 * r + 1, 2 * r + 2
    xl = 'x' if nl == 1 else 'x%d' % nl
    yl = 'y' if nl == 1 else 'y%d' % nl
    xr, yr = 'x%d' % nr, 'y%d' % nr

    # ---------- KDE (left)
    kx, ky = g[v + '_kde_x'], g[v + '_kde_y']
    kd, kc = g[v + '_kde_dim'], g[v + '_kde_chain']
    for dim, ch, xs, ys in zip(kd, kc, kx, ky):
        fig.add_trace(go.Scatter(x=xs, y=ys, mode='lines', xaxis=xl, yaxis=yl,
                                 line=dict(color=TAB[dim % 10], width=1.5, dash=DASHES[ch],
                                           shape='spline', smoothing=0.7),
                                 hoverinfo='skip'))
    allx = [a for xs in kx for a in xs]
    ally = [a for ys in ky for a in ys]
    x0, x1 = min(allx), max(allx)
    pad = 0.05 * (x1 - x0)
    ymax = max(ally)
    layout['xaxis' if nl == 1 else 'xaxis%d' % nl] = dict(
        axis_common, domain=[LEFT[0] / W, LEFT[1] / W], anchor=yl,
        range=[x0 - pad, x1 + pad], tickvals=kde_tickvals[v], ticktext=kde_ticktext[v])
    layout['yaxis' if nl == 1 else 'yaxis%d' % nl] = dict(
        axis_common, domain=ydom, anchor=xl, range=[-0.05 * ymax, 1.05 * ymax],
        showticklabels=False, ticks='')

    # ---------- trace (right)
    his, los, spks = g[v + '_hi'], g[v + '_lo'], g[v + '_spk']
    ndim = len(his)
    vals = []
    for dim in range(ndim):
        hi, lo, spk = his[dim], los[dim], spks[dim]
        n = len(hi)
        xb = [j * (N_DRAWS - 1) / (n - 1) for j in range(n)]
        col = TAB[dim % 10]
        # dense core of the overlapping chains
        fig.add_trace(go.Scatter(x=xb + xb[::-1], y=hi + lo[::-1], mode='lines',
                                 fill='toself', fillcolor=rgba(col, 0.5),
                                 line=dict(width=0.8, color=rgba(col, 0.55)),
                                 xaxis=xr, yaxis=yr, hoverinfo='skip'))
        # excursions beyond the core
        sx, sy = [], []
        for d, val in spk:
            j = int(round(d * (n - 1) / (N_DRAWS - 1)))
            base = hi[j] if val > hi[j] else lo[j]
            sx += [d - 2.5, d, d + 2.5, None]
            sy += [base, val, base, None]
        if sx:
            fig.add_trace(go.Scatter(x=sx, y=sy, mode='lines',
                                     line=dict(color=rgba(col, 0.5), width=1.0),
                                     xaxis=xr, yaxis=yr, hoverinfo='skip'))
        vals += hi + lo + [b for a, b in spk]
    y0, y1 = min(vals), max(vals)
    pad = 0.05 * (y1 - y0)
    layout['xaxis%d' % nr] = dict(axis_common, domain=[RIGHT[0] / W, RIGHT[1] / W], anchor=yr,
                                  range=[0, N_DRAWS - 1], tickvals=draw_ticks,
                                  ticktext=[str(t) for t in draw_ticks])
    layout['yaxis%d' % nr] = dict(axis_common, domain=ydom, anchor=xr, range=[y0 - pad, y1 + pad],
                                  tickvals=trace_tickvals[v], ticktext=trace_ticktext[v])

    # ---------- titles
    for (a, b) in (LEFT, RIGHT):
        annotations.append(dict(text=v, xref='paper', yref='paper',
                                x=(a + b) / 2 / W, y=1 - (top - 3) / H,
                                xanchor='center', yanchor='bottom', showarrow=False,
                                font=dict(family=FONT, size=16.5, color='black')))

layout['annotations'] = annotations
fig.update_layout(**layout)
fig.write_html('out.html', config={'displayModeBar': False},
               post_script="document.body.style.margin='0px';document.body.style.overflow='hidden';")
